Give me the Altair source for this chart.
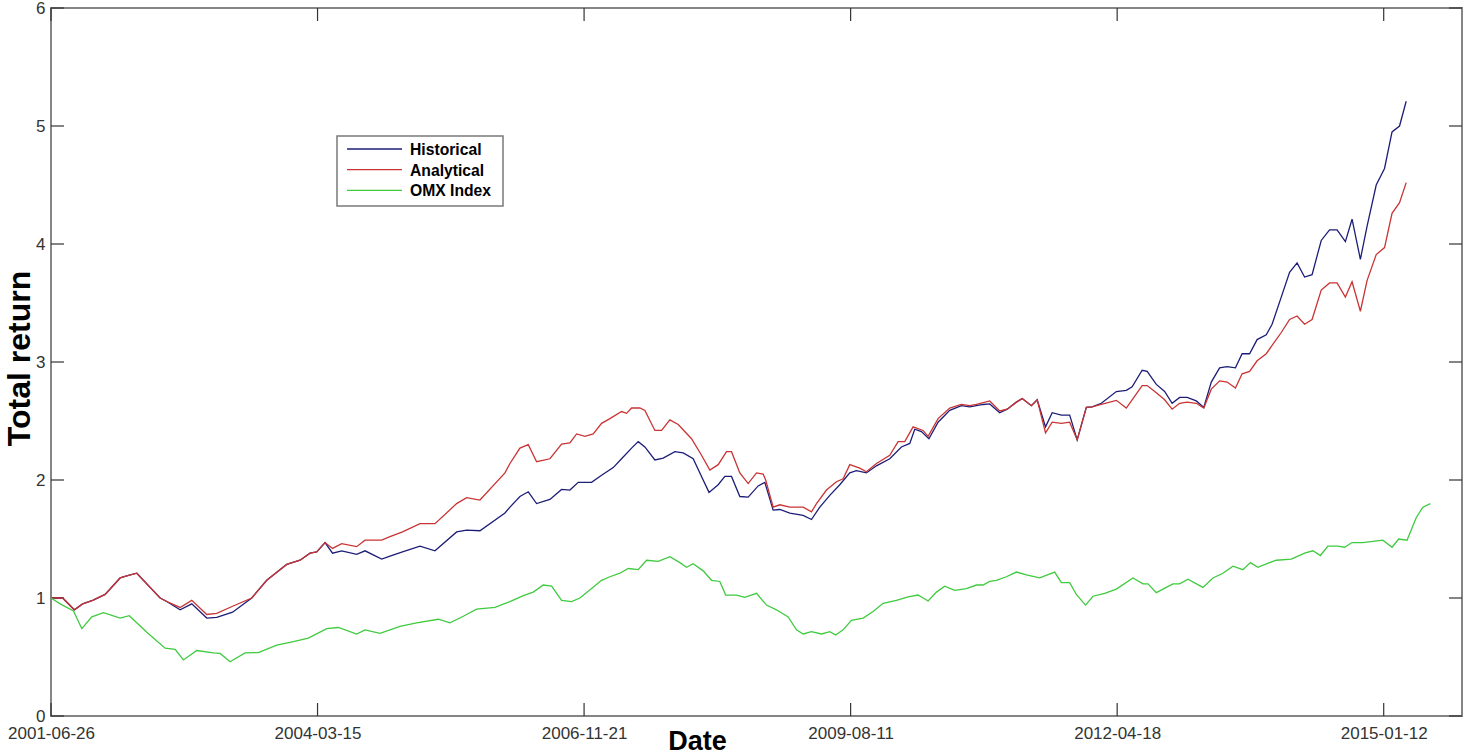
import altair as alt
import pandas as pd

# Sample index along the date axis: 32 samples separate consecutive labelled dates.
hist_step = [
    0, 1.4, 2.8, 3.8, 5.0, 6.5, 8.3, 9.2, 10.3, 13.1, 13.9, 15.5, 16.9, 18.7, 19.9, 21.8,
    24.1, 25.9, 28.3, 29.9, 31.1, 31.9, 32.9, 33.8, 34.9, 36.7, 37.7, 39.7, 40.7, 42.2,
    44.3, 46.1, 48.7, 49.9, 51.5, 54.5,
    55.1, 56.3, 57.3, 58.3, 59.9, 61.3, 62.3, 63.3, 64.9, 66.1, 67.5, 68.5, 69.7, 70.5,
    71.3, 72.5, 73.5, 74.9, 75.9, 77.1, 78.1, 79.0, 80.1, 80.9, 81.7, 82.7, 83.7, 84.9,
    85.7, 86.7, 87.5, 88.7, 90.3, 91.3, 92.3, 93.5, 94.7, 95.9, 96.7, 97.9, 99.1, 100.7,
    102.1, 103.1, 103.7, 104.5, 105.4, 106.5, 107.9, 109.3, 110.3, 111.9,
    112.7, 113.9, 114.8, 115.9, 116.6, 117.7, 118.4, 119.4, 120.2, 121.3, 122.3, 123.2,
    124.3, 125.0, 126.1, 127.9, 129.1, 129.8, 131.0, 131.6, 132.7, 133.7, 134.6, 135.5,
    136.4, 137.5, 138.4, 139.3, 140.3, 141.2, 142.2, 143.0, 143.9, 144.8, 145.9, 146.6,
    147.7, 148.7, 149.6, 150.5, 151.4, 152.5, 153.5, 154.4, 155.4, 156.2, 157.2, 158.0,
    159.1, 160.1, 161.0, 161.9, 162.7,
]
hist_value = [
    1.00, 1.00, 0.90, 0.95, 0.98, 1.03, 1.17, 1.19, 1.21, 1.00, 0.97, 0.90, 0.95, 0.83,
    0.835, 0.88, 1.00, 1.15, 1.285, 1.32, 1.38, 1.39, 1.47, 1.38, 1.40, 1.37, 1.40, 1.33,
    1.355, 1.39, 1.44, 1.40, 1.56, 1.575, 1.57, 1.72,
    1.77, 1.86, 1.90, 1.80, 1.835, 1.92, 1.915, 1.98, 1.98, 2.04, 2.105, 2.18, 2.27, 2.325,
    2.28, 2.17, 2.185, 2.24, 2.23, 2.18, 2.03, 1.895, 1.96, 2.03, 2.03, 1.86, 1.855, 1.95,
    1.98, 1.745, 1.75, 1.72, 1.70, 1.665, 1.77, 1.87, 1.96, 2.06, 2.08, 2.06, 2.12, 2.18,
    2.28, 2.31, 2.43, 2.41, 2.35, 2.49, 2.59, 2.63, 2.62, 2.64,
    2.645, 2.57, 2.60, 2.66, 2.69, 2.63, 2.68, 2.45, 2.57, 2.55, 2.55, 2.34, 2.615, 2.62,
    2.65, 2.75, 2.76, 2.79, 2.93, 2.92, 2.81, 2.75, 2.65, 2.70, 2.70, 2.67, 2.615, 2.83,
    2.95, 2.96, 2.95, 3.07, 3.07, 3.19, 3.23, 3.32, 3.55, 3.76, 3.84, 3.72, 3.74, 4.03,
    4.12, 4.12, 4.02, 4.21, 3.87, 4.15, 4.50, 4.64, 4.95, 5.00, 5.21,
]

anal_step = [
    0, 1.4, 2.8, 3.8, 5.0, 6.5, 8.3, 9.2, 10.3, 13.1, 13.9, 15.5, 16.9, 18.7, 19.9, 21.8,
    24.1, 25.9, 28.3, 29.9, 31.1, 31.9, 32.9, 33.8, 34.9, 36.7, 37.7, 39.7, 40.7, 42.2,
    44.3, 46.1, 48.7, 49.9, 51.5, 54.5,
    55.1, 56.3, 57.3, 58.3, 59.9, 61.3, 62.3, 63.1, 64.1, 65.1, 66.1, 67.1, 68.5, 69.1,
    69.7, 70.7, 71.3, 72.5, 73.3, 74.3, 75.3, 76.9, 78.1, 79.1, 80.1, 81.1, 81.7, 82.7,
    83.7, 84.7, 85.5, 85.8, 86.7, 87.5, 88.7, 90.3, 91.3, 91.9, 93.1, 94.3, 95.1, 95.9,
    97.1, 97.9, 99.1, 100.7, 101.7, 102.5, 103.5, 104.7, 105.3, 106.5, 107.9, 109.3,
    110.3, 111.1,
    112.7, 113.9, 114.8, 115.9, 116.6, 117.7, 118.4, 119.4, 120.2, 121.3, 122.3, 123.2,
    124.3, 125.0, 126.1, 127.9, 129.1, 131.0, 131.6, 132.7, 133.7, 134.6, 135.5, 136.4,
    137.5, 138.4, 139.3, 140.3, 141.2, 142.2, 143.0, 143.9, 144.8, 145.9, 146.6, 147.7,
    148.7, 149.6, 150.5, 151.4, 152.5, 153.5, 154.4, 155.4, 156.2, 157.2, 158.0, 159.1,
    160.1, 161.0, 161.9, 162.7,
]
anal_value = [
    1.00, 1.00, 0.90, 0.95, 0.98, 1.03, 1.17, 1.19, 1.21, 1.00, 0.97, 0.92, 0.98, 0.86,
    0.87, 0.93, 1.00, 1.15, 1.285, 1.32, 1.38, 1.39, 1.47, 1.42, 1.46, 1.435, 1.49, 1.49,
    1.52, 1.56, 1.63, 1.63, 1.80, 1.85, 1.83, 2.06,
    2.14, 2.27, 2.30, 2.155, 2.18, 2.305, 2.315, 2.39, 2.37, 2.39, 2.48, 2.52, 2.58, 2.565,
    2.61, 2.61, 2.59, 2.42, 2.42, 2.51, 2.47, 2.35, 2.21, 2.085, 2.13, 2.24, 2.24, 2.06,
    1.97, 2.06, 2.05, 2.00, 1.77, 1.79, 1.77, 1.77, 1.73, 1.80, 1.915, 1.985, 2.01, 2.13,
    2.10, 2.07, 2.14, 2.21, 2.325, 2.325, 2.45, 2.42, 2.37, 2.52, 2.61, 2.64, 2.63, 2.64,
    2.67, 2.585, 2.60, 2.66, 2.69, 2.63, 2.68, 2.40, 2.49, 2.48, 2.49, 2.34, 2.615, 2.62,
    2.64, 2.675, 2.61, 2.80, 2.80, 2.74, 2.68, 2.60, 2.65, 2.66, 2.65, 2.61, 2.77, 2.84,
    2.83, 2.78, 2.90, 2.92, 3.01, 3.07, 3.14, 3.25, 3.36, 3.39, 3.32, 3.36, 3.61, 3.67,
    3.67, 3.55, 3.68, 3.43, 3.69, 3.91, 3.97, 4.26, 4.35, 4.52,
]

omx_step = [
    0, 1.1, 2.7, 3.7, 4.9, 6.3, 8.3, 9.4, 11.5, 13.7, 14.9, 15.9, 17.5, 19.5, 20.3, 21.5,
    23.3, 24.9, 27.1, 29.1, 30.9, 33.1, 34.5, 36.7, 37.7, 39.5, 41.9, 43.9, 46.5, 47.9,
    49.5, 51.1, 53.3,
    55.1, 56.7, 57.9, 59.1, 60.1, 61.3, 62.5, 63.5, 64.9, 66.1, 67.1, 68.3, 69.3, 70.5,
    71.5, 72.9, 74.3, 75.5, 76.3, 77.1, 78.3, 79.3, 80.3, 81.0, 82.3, 83.3, 84.7, 85.9,
    87.1, 88.5, 89.5, 90.3, 91.3, 92.5, 93.5, 94.2, 95.1, 96.1, 97.5, 98.7, 99.9, 101.5,
    102.9, 104.1, 105.3, 106.3, 107.3, 108.5, 109.9, 111.1, 111.9, 112.7,
    113.5, 114.7, 115.9, 117.1, 118.7, 120.5, 121.3, 122.3, 123.1, 124.2, 125.1, 126.5,
    127.9, 129.9, 131.1, 131.7, 132.7, 133.9, 134.7, 135.5, 136.5, 138.3, 139.5, 140.7,
    141.9, 143.1, 144.0, 144.9, 145.9, 147.1, 148.9, 150.5, 151.5, 152.4, 153.3, 154.5,
    155.3, 156.2, 157.5, 158.7, 159.9, 161.0, 161.8, 162.8, 163.9, 164.7, 165.6,
]
omx_value = [
    1.00, 0.95, 0.89, 0.74, 0.84, 0.875, 0.83, 0.85, 0.71, 0.575, 0.565, 0.475, 0.555,
    0.535, 0.53, 0.46, 0.535, 0.537, 0.60, 0.63, 0.66, 0.74, 0.75, 0.695, 0.73, 0.70,
    0.76, 0.79, 0.82, 0.79, 0.845, 0.905, 0.92,
    0.97, 1.02, 1.05, 1.11, 1.10, 0.98, 0.97, 1.00, 1.08, 1.15, 1.18, 1.21, 1.25, 1.24,
    1.32, 1.31, 1.35, 1.30, 1.26, 1.29, 1.23, 1.15, 1.14, 1.025, 1.025, 1.005, 1.04, 0.94,
    0.90, 0.84, 0.73, 0.695, 0.715, 0.695, 0.715, 0.686, 0.73, 0.81, 0.83, 0.885, 0.955,
    0.98, 1.01, 1.025, 0.975, 1.05, 1.10, 1.065, 1.08, 1.11, 1.11, 1.14,
    1.15, 1.18, 1.22, 1.196, 1.17, 1.22, 1.13, 1.13, 1.03, 0.94, 1.015, 1.04, 1.075, 1.17,
    1.12, 1.12, 1.045, 1.09, 1.12, 1.12, 1.16, 1.09, 1.17, 1.21, 1.27, 1.24, 1.30, 1.26,
    1.29, 1.32, 1.33, 1.38, 1.40, 1.36, 1.44, 1.44, 1.43, 1.47, 1.47, 1.48, 1.49, 1.43,
    1.50, 1.49, 1.68, 1.77, 1.80,
]

series_names = ["Historical", "Analytical", "OMX Index"]
series_colors = ["#1d1d78", "#c93434", "#3fca3f"]

tick_steps = [0, 32, 64, 96, 128, 160]
tick_labels = ["2001-06-26", "2004-03-15", "2006-11-21", "2009-08-11", "2012-04-18", "2015-01-12"]
y_ticks = [0, 1, 2, 3, 4, 5, 6]

# ---- layout ----
PLOT_W, PLOT_H = 1411, 708
X_MAX, Y_MAX = 169.4, 6
TICK_LEN = 13  # inward tick length in pixels
FONT = "Liberation Sans, Arial, Helvetica, sans-serif"

# legend box, in pixels from the plot area's top-left corner
LEG_LEFT, LEG_TOP, LEG_RIGHT, LEG_BOTTOM = 286, 128, 452, 198
LEG_LINE_X0, LEG_LINE_X1, LEG_TEXT_X = 296, 351, 359
LEG_ROW0, LEG_ROW_GAP = 141, 20.7

frames = []
for name, steps, vals in [
    ("Historical", hist_step, hist_value),
    ("Analytical", anal_step, anal_value),
    ("OMX Index", omx_step, omx_value),
]:
    frames.append(pd.DataFrame({"step": steps, "value": vals, "series": name}))
df = pd.concat(frames, ignore_index=True)

x_scale = alt.Scale(domain=[0, X_MAX], nice=False, zero=False)
y_scale = alt.Scale(domain=[0, Y_MAX], nice=False)
color_scale = alt.Scale(domain=series_names, range=series_colors)

label_expr = "''"
for s, lab in reversed(list(zip(tick_steps, tick_labels))):
    label_expr = f"datum.value == {s} ? '{lab}' : ({label_expr})"

x_axis = alt.Axis(
    values=tick_steps, labelExpr=label_expr, title="Date", grid=False, ticks=False,
    domain=False, labelPadding=9, labelFontSize=17, labelColor="#333333", labelFont=FONT,
    labelFlush=False, labelOverlap=False, titleFont=FONT, titleFontSize=27,
    titleFontWeight="bold", titleColor="black", titleX=646, titleY=33,
    titleBaseline="alphabetic", titleAlign="center",
)
y_axis = alt.Axis(
    values=y_ticks, format="d", title="Total return", grid=False, ticks=False,
    domain=False, labelPadding=6, labelFontSize=17, labelColor="#333333", labelFont=FONT,
    labelFlush=False, titleFont=FONT, titleFontSize=32, titleFontWeight="bold",
    titleColor="black", titleAngle=270, titleX=-22, titleY=350,
    titleBaseline="alphabetic", titleAlign="center",
)

lines = alt.Chart(df).mark_line(strokeWidth=1.3).encode(
    x=alt.X("step:Q", scale=x_scale, axis=x_axis),
    y=alt.Y("value:Q", scale=y_scale, axis=y_axis),
    color=alt.Color("series:N", scale=color_scale, legend=None),
)

# inward tick marks on all four sides of the box
dx = TICK_LEN * X_MAX / PLOT_W
dy = TICK_LEN * Y_MAX / PLOT_H
ytick_df = pd.DataFrame(
    [{"y": v, "x0": 0, "x1": dx} for v in y_ticks]
    + [{"y": v, "x0": X_MAX - dx, "x1": X_MAX} for v in y_ticks]
)
xtick_df = pd.DataFrame(
    [{"x": s, "y0": 0, "y1": dy} for s in tick_steps]
    + [{"x": s, "y0": Y_MAX - dy, "y1": Y_MAX} for s in tick_steps]
)
ytick_rules = alt.Chart(ytick_df).mark_rule(color="#333333", strokeWidth=1.2).encode(
    x=alt.X("x0:Q", scale=x_scale), x2="x1:Q", y=alt.Y("y:Q", scale=y_scale)
)
xtick_rules = alt.Chart(xtick_df).mark_rule(color="#333333", strokeWidth=1.2).encode(
    x=alt.X("x:Q", scale=x_scale), y=alt.Y("y0:Q", scale=y_scale), y2="y1:Q"
)

# boxed legend in the upper left
legend_df = pd.DataFrame({"series": series_names, "row": list(range(len(series_names)))})
legend_box = alt.Chart(pd.DataFrame({"box": [0]})).mark_rect(
    fill="white", stroke="#7a7a7a", strokeWidth=1.5
).encode(
    x=alt.value(LEG_LEFT), x2=alt.value(LEG_RIGHT),
    y=alt.value(LEG_TOP), y2=alt.value(LEG_BOTTOM),
)
legend_base = alt.Chart(legend_df).transform_calculate(
    ly=f"{LEG_ROW0} + {LEG_ROW_GAP} * datum.row"
)
legend_lines = legend_base.mark_rule(strokeWidth=1.3).encode(
    x=alt.value(LEG_LINE_X0), x2=alt.value(LEG_LINE_X1),
    y=alt.Y("ly:Q", scale=None),
    color=alt.Color("series:N", scale=color_scale, legend=None),
)
legend_text = legend_base.mark_text(
    align="left", baseline="middle", font=FONT, fontSize=15.7, fontWeight="bold",
    color="black", dy=1,
).encode(
    x=alt.value(LEG_TEXT_X), y=alt.Y("ly:Q", scale=None), text="series:N",
)

chart = (
    alt.layer(ytick_rules, xtick_rules, lines, legend_box, legend_lines, legend_text)
    .properties(
        width=PLOT_W, height=PLOT_H,
        autosize=alt.AutoSizeParams(type="none"),
        padding={"left": 51, "top": 8, "right": 2, "bottom": 39},
        background="white",
    )
    .configure_view(stroke="#858585", strokeWidth=2)
)

chart.save("out.html", embed_options={"renderer": "svg", "actions": False})
